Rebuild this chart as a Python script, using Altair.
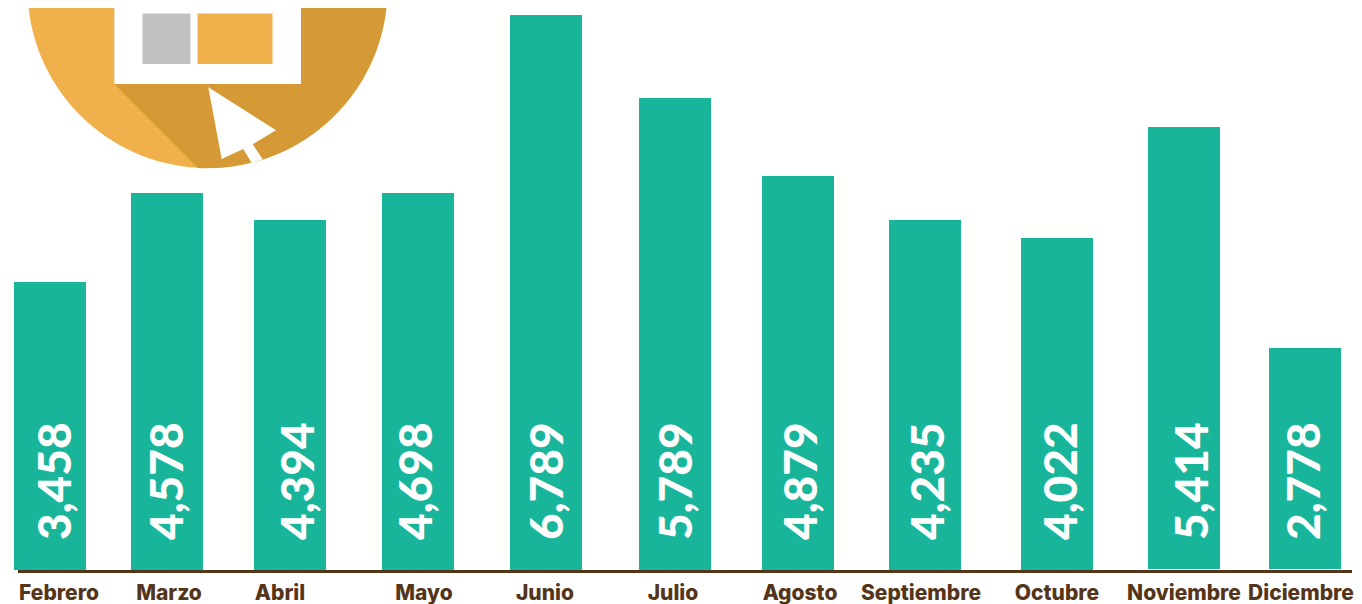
import altair as alt
import pandas as pd

# --- datos -------------------------------------------------------------
meses = ["Febrero", "Marzo", "Abril", "Mayo", "Junio", "Julio", "Agosto",
         "Septiembre", "Octubre", "Noviembre", "Diciembre"]
etiquetas = ["3,458", "4,578", "4,394", "4,698", "6,789", "5,789", "4,879",
             "4,235", "4,022", "5,414", "2,778"]
# the drawn bars are not proportional to their printed figures: heights as read
alturas = [288, 377, 350, 377, 555, 472, 394, 350, 332, 443, 222]
bases = [0, 0, 0, 0, 0, 0, 0, 0, 0, 1, 1]
# irregular horizontal layout of the original graphic
centros = [50, 167, 290, 418, 546, 675, 798, 925, 1057, 1184, 1305]
x_etiqueta = [71, 183, 314, 432, 563, 692, 817, 944, 1077, 1208, 1320]
x_mes = [59, 169, 280, 424, 545, 673, 800, 921, 1057, 1184, 1301]

VERDE = "#18b59b"
CAFE = "#55351a"
CLARO = "#f0b04c"
OSCURO = "#d59a35"
W, H, BASE_Y = 1346, 596, 570

x_s = alt.Scale(domain=[8, 8 + W], nice=False, zero=False)
y_s = alt.Scale(domain=[BASE_Y - 604, BASE_Y - 8], nice=False, zero=False)
X = lambda f: alt.X(f, type="quantitative", scale=x_s, axis=None)
Y = lambda f: alt.Y(f, type="quantitative", scale=y_s, axis=None)

df = pd.DataFrame({"mes": meses, "etiqueta": etiquetas, "alto": alturas, "base": bases,
                   "centro": centros, "x_etiqueta": x_etiqueta, "x_mes": x_mes})
df["izq"] = df["centro"] - 36
df["der"] = df["centro"] + 36
df["y_etiqueta"] = 30
df["y_mes"] = -30

barras = alt.Chart(df).mark_bar(color=VERDE).encode(
    x=X("izq"), x2="der", y=Y("alto"), y2="base")
valores = alt.Chart(df).mark_text(
    angle=270, align="left", baseline="alphabetic", font="Lato", fontWeight=900,
    fontSize=46, color="white").encode(x=X("x_etiqueta"), y=Y("y_etiqueta"), text="etiqueta")
nombres = alt.Chart(df).mark_text(
    align="center", baseline="alphabetic", font="Inter", fontWeight=800,
    fontSize=21, color=CAFE).encode(x=X("x_mes"), y=Y("y_mes"), text="mes")
eje = alt.Chart(pd.DataFrame({"a": [18], "b": [1352], "y": [-1.5]})).mark_rule(
    color=CAFE, strokeWidth=3).encode(x=X("a"), x2="b", y=Y("y"))

# --- icono -------------------------------------------------------------
CX, CY, R = 207.5, -12, 180
ancla = pd.DataFrame({"x": [CX], "y": [BASE_Y - CY]})


def trazo(puntos, cola=""):
    return "M" + " L".join(f"{a - CX} {b - CY}" for a, b in puntos) + cola


forma_sombra = (trazo([(114.3, 84), (198, 168)]) +
                f" A{R} {R} 0 0 0 {387 - CX} {0 - CY} L{387 - CX} {-60 - CY} L{114.3 - CX} {-60 - CY} Z")
forma_cursor = trazo([(208.3, 87.3), (276, 130.3), (252.7, 144.3), (262.7, 159.3),
                      (251.7, 163), (243.3, 149), (221.7, 159)], " Z")
forma_disco = f"M{-R} 0 A{R} {R} 0 1 0 {R} 0 A{R} {R} 0 1 0 {-R} 0 Z"


def figura(forma, color):
    return alt.Chart(ancla).mark_point(
        shape=forma, size=4, filled=True, opacity=1, color=color, strokeWidth=0
    ).encode(x=X("x"), y=Y("y"))


rects = pd.DataFrame({
    "x1": [114.3, 142.5, 142.5, 197.5],
    "x2": [301, 272.5, 190.5, 272.5],
    "v1": [BASE_Y + 60, BASE_Y + 20, BASE_Y - 13.5, BASE_Y - 13.5],
    "v2": [BASE_Y - 84, BASE_Y - 6.5, BASE_Y - 64, BASE_Y - 64],
    "c": ["#ffffff", "#e25a45", "#c2c2c4", CLARO],
})
ventana = alt.Chart(rects).mark_rect().encode(
    x=X("x1"), x2="x2", y=Y("v1"), y2="v2",
    color=alt.Color("c:N", scale=None))

chart = alt.layer(
    figura(forma_disco, CLARO), figura(forma_sombra, OSCURO), ventana, figura(forma_cursor, "#ffffff"),
    barras, eje, valores, nombres
).properties(
    width=W, height=H, padding=0, autosize=alt.AutoSizeParams(type="none")
).configure_view(stroke=None)

chart.save("out.html", embed_options={"renderer": "svg", "actions": False})
